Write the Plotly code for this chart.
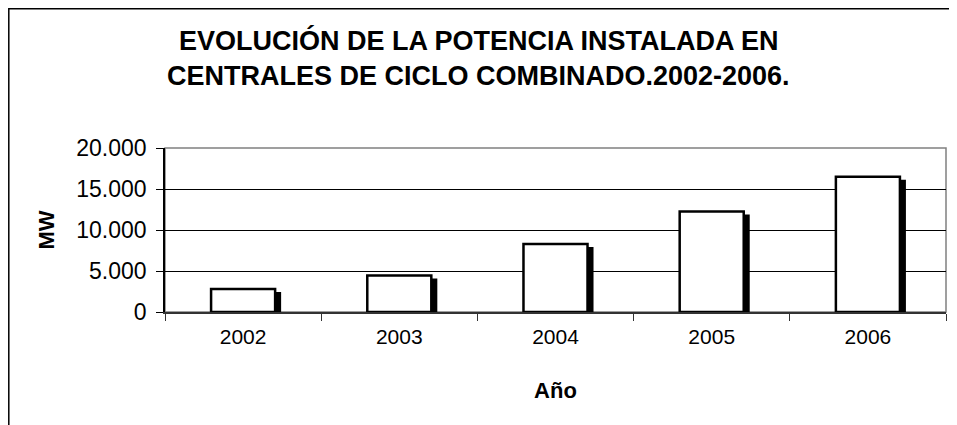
import plotly.graph_objects as go

years = ["2002", "2003", "2004", "2005", "2006"]
mw = [2800, 4450, 8300, 12250, 16500]
y_ticks = [0, 5000, 10000, 15000, 20000]

title_lines = ["EVOLUCIÓN DE LA POTENCIA INSTALADA EN",
               "CENTRALES DE CICLO COMBINADO.2002-2006."]

FONT = "Arial, Liberation Sans, sans-serif"
# the page body adds an 8px margin, so the figure is 8px smaller
W, H = 949, 417
ML, MR, MT, MB = 157, 11, 140, 113
pw = W - ML - MR
ph = H - MT - MB
ymax = 20000

bar_w = 0.41
dx = 6 / (pw / len(years))          # shadow shift in category units
dy = 3 * ymax / ph                   # shadow drop in data units


def px_x(p):
    return (p - ML) / pw


def px_y(p):
    return (MT + ph - p) / ph


fig = go.Figure()
fig.add_trace(go.Bar(
    x=years, y=[v - dy for v in mw],
    width=bar_w, offset=-bar_w / 2 + dx,
    marker=dict(color="black", line=dict(width=0)),
    hoverinfo="skip", showlegend=False,
))
fig.add_trace(go.Bar(
    x=years, y=mw,
    width=bar_w, offset=-bar_w / 2,
    marker=dict(color="white", line=dict(color="black", width=2.5)),
    showlegend=False,
))

shapes = [
    dict(type="rect", xref="paper", yref="paper", x0=0, x1=1, y0=0, y1=1,
         line=dict(color="#808080", width=1.5), layer="below"),
    dict(type="rect", xref="paper", yref="paper",
         x0=px_x(0.8), x1=px_x(W + 10),
         y0=px_y(H + 10), y1=px_y(0.8),
         line=dict(color="black", width=1.5), fillcolor="rgba(0,0,0,0)"),
]

annotations = [
    dict(text="<b>%s</b>" % title_lines[0], xref="paper", yref="paper",
         x=px_x(470.5), y=px_y(32), showarrow=False,
         xanchor="center", yanchor="middle",
         font=dict(family=FONT, size=27, color="black")),
    dict(text="<b>%s</b>" % title_lines[1], xref="paper", yref="paper",
         x=px_x(470.5), y=px_y(68), showarrow=False,
         xanchor="center", yanchor="middle",
         font=dict(family=FONT, size=27, color="black")),
]

fig.update_layout(
    width=W, height=H,
    margin=dict(l=ML, r=MR, t=MT, b=MB),
    paper_bgcolor="white", plot_bgcolor="white",
    barmode="overlay",
    separators=",.",
    font=dict(family=FONT, size=21, color="black"),
    shapes=shapes,
    annotations=annotations,
    xaxis=dict(
        type="category",
        title=dict(text="<b>Año</b>", font=dict(family=FONT, size=22), standoff=36),
        showgrid=False, showline=True, linecolor="#333333", linewidth=1.5,
        ticks="outside", tickson="boundaries", ticklen=7, tickcolor="#333333",
        tickfont=dict(family=FONT, size=21), ticklabelstandoff=5,
    ),
    yaxis=dict(
        range=[0, ymax], tickvals=y_ticks, tickformat=",d",
        title=dict(text="<b>MW</b>", font=dict(family=FONT, size=22), standoff=16),
        showgrid=True, gridcolor="black", gridwidth=1.2,
        showline=True, linecolor="black", linewidth=1.5,
        ticks="outside", ticklen=7, tickcolor="black",
        tickfont=dict(family=FONT, size=23), ticklabelstandoff=5,
        zeroline=False,
    ),
)

fig.write_html("out.html")
